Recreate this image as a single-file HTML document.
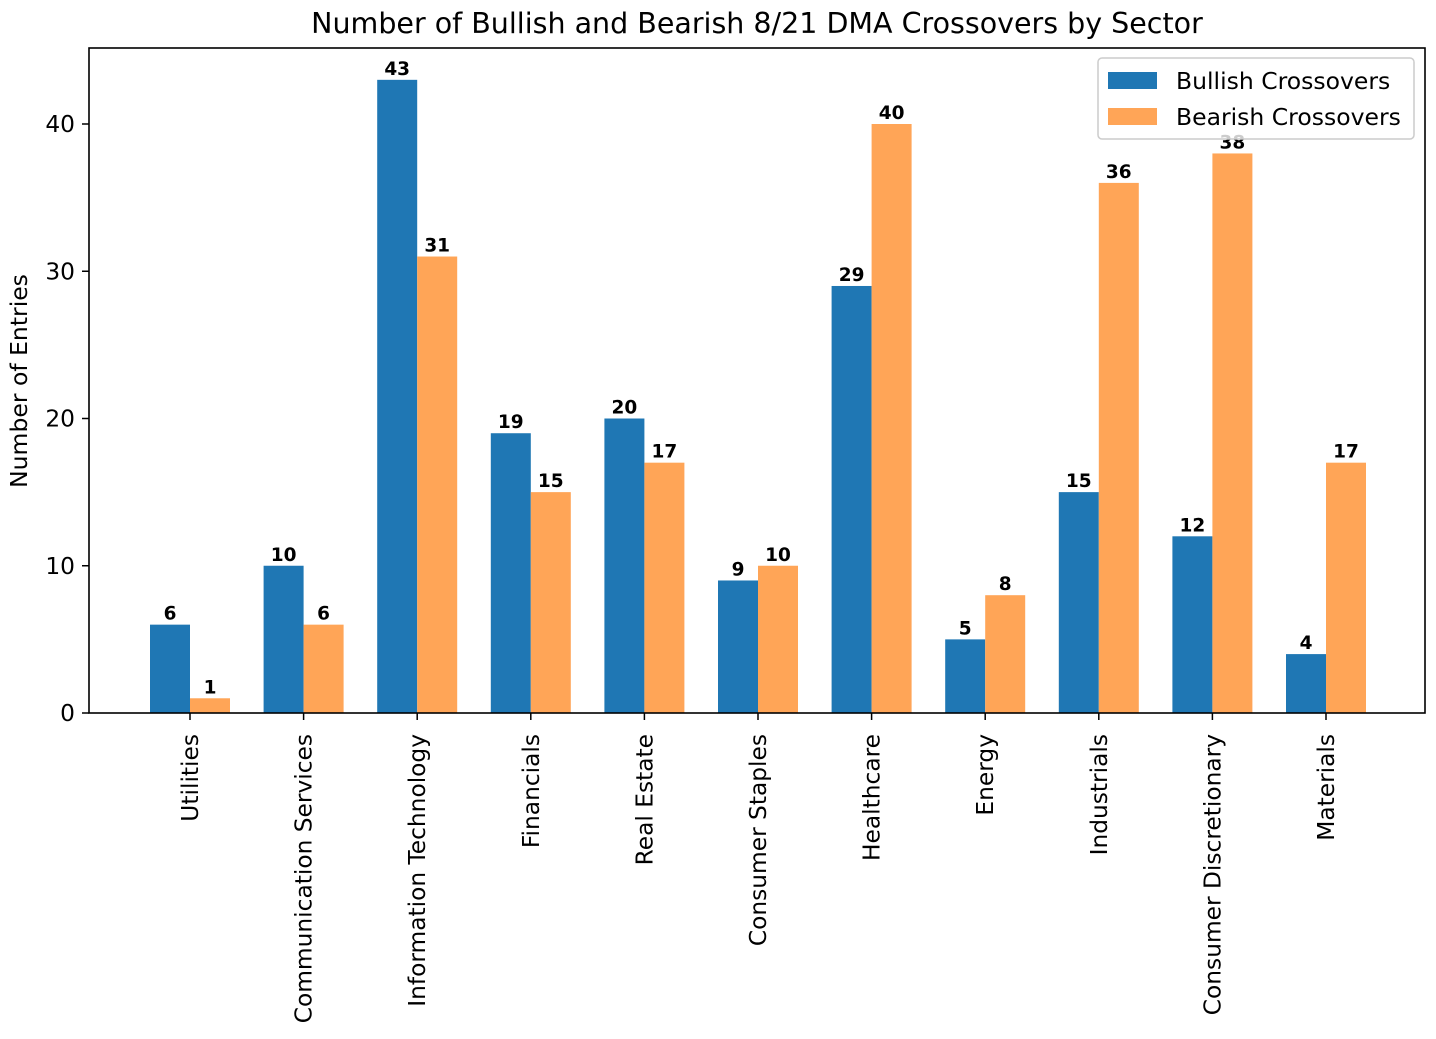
<!DOCTYPE html>
<html><head><meta charset="utf-8"><style>
body{margin:0;background:#fff;}
svg text{font-family:"DejaVu Sans","Liberation Sans",sans-serif;}
</style></head><body>
<svg id="chart" width="1436" height="1034" xmlns="http://www.w3.org/2000/svg">
<rect width="1436" height="1034" fill="#fff"/>
<text x="757" y="33" font-size="28.5" text-anchor="middle">Number of Bullish and Bearish 8/21 DMA Crossovers by Sector</text>
<text transform="translate(27,381) rotate(-90)" font-size="23.5" text-anchor="middle">Number of Entries</text>
<g id="bars"></g>
<g id="axes"></g>
<rect x="89" y="48" width="1336" height="665" fill="none" stroke="#000" stroke-width="1.6"/>
<g>
<rect x="1098" y="58" width="316" height="81" rx="4" fill="#fff" fill-opacity="0.8" stroke="#ccc" stroke-width="1.5"/>
<rect x="1108" y="72" width="49" height="17" fill="#1f77b4"/>
<text x="1176" y="89" font-size="23.5">Bullish Crossovers</text>
<rect x="1108" y="108" width="49" height="17" fill="#ffa557"/>
<text x="1176" y="125" font-size="23.5">Bearish Crossovers</text>
</g>
</svg>
<script>
const categories=["Utilities","Communication Services","Information Technology","Financials","Real Estate","Consumer Staples","Healthcare","Energy","Industrials","Consumer Discretionary","Materials"];
const bullish=[6,10,43,19,20,9,29,5,15,12,4];
const bearish=[1,6,31,15,17,10,40,8,36,38,17];
const yTicks=[0,10,20,30,40];
const NS="http://www.w3.org/2000/svg";
const y0=713, pxPerUnit=14.725, x0=190, step=113.6, bw=40;
const yS=v=>y0-v*pxPerUnit;
const xS=i=>x0+i*step;
const bars=document.getElementById('bars'), axes=document.getElementById('axes');
function mk(tag,attrs,parent){const e=document.createElementNS(NS,tag);for(const k in attrs)e.setAttribute(k,attrs[k]);parent.appendChild(e);return e;}
categories.forEach((c,i)=>{
  [[bullish,'#1f77b4',-bw,'bullish'],[bearish,'#ffa557',0,'bearish']].forEach(([arr,col,off,nm])=>{
    const v=arr[i];
    const r=mk('rect',{x:xS(i)+off,y:yS(v),width:bw,height:v*pxPerUnit,fill:col},bars);
    
    
    const t=mk('text',{x:xS(i)+off+bw/2,y:yS(v)-5,'font-size':18.5,'font-weight':'bold','text-anchor':'middle'},bars);
    t.textContent=v;
    
    
  });
  mk('line',{x1:xS(i),x2:xS(i),y1:y0,y2:y0+7,stroke:'#000','stroke-width':1.5},axes);
  const lt=mk('text',{transform:`translate(${xS(i)+8},${y0+21}) rotate(-90)`,'font-size':23.3,'text-anchor':'end'},axes);
  lt.textContent=c;
  
  
});
yTicks.forEach(v=>{
  mk('line',{x1:82,x2:89,y1:yS(v),y2:yS(v),stroke:'#000','stroke-width':1.5},axes);
  const t=mk('text',{x:75,y:yS(v)+8,'font-size':23.3,'text-anchor':'end'},axes);
  t.textContent=v;
  
  
});
</script>
</body></html>
